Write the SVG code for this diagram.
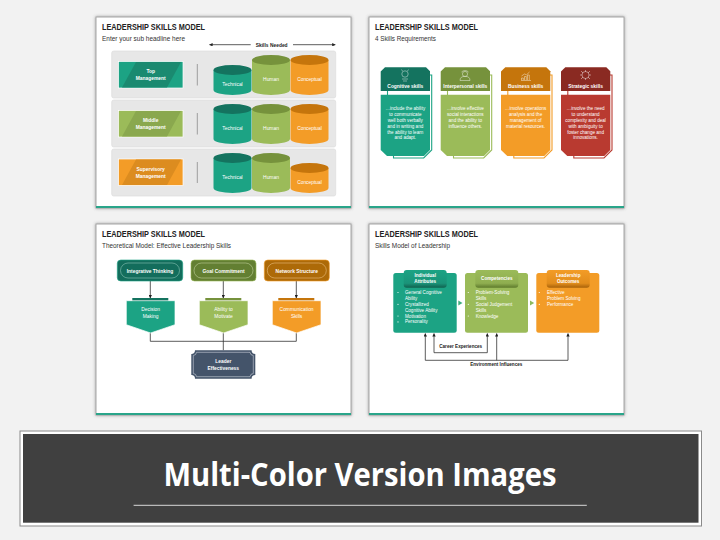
<svg xmlns="http://www.w3.org/2000/svg" width="720" height="540" viewBox="0 0 720 540">
<style>
text{font-family:"Liberation Sans",Arial,sans-serif;fill:#fff}
.ttl{font-size:9.600px;font-weight:700;fill:#222}
.sub{font-size:6.800px;fill:#333}
.slide{fill:#fff;stroke:#a6a6a6;stroke-width:1;filter:url(#sh)}
.bar{fill:#2aa58a}
.c{text-anchor:middle}
.b{font-weight:700}
.s5{font-size:4.900px}
.s45{font-size:4.600px}
.k{fill:#222}
.panel{fill:#e7e7e7;stroke:#dcdcdc;stroke-width:.7}
.sep{stroke:#8c8c8c;stroke-width:.8}
.tl{fill:#1ca384}.tld{fill:#14735f}.tlm{fill:#1a8a70}
.gr{fill:#9bbb59}.grd{fill:#76923c}.grm{fill:#8aa84e}
.or{fill:#f39c27}.ord{fill:#c5750c}.orm{fill:#dc8c1f}
.rd{fill:#b93a30}.rdd{fill:#8a2a22}
.wb{stroke:#fff;stroke-width:.7}
.tlo{fill:none;stroke:#1ca384;stroke-width:1.100}
.gro{fill:none;stroke:#9bbb59;stroke-width:1.100}
.oro{fill:none;stroke:#f39c27;stroke-width:1.100}
.rdo{fill:none;stroke:#b93a30;stroke-width:1.100}
.ic{fill:none;stroke:#fff;stroke-width:.5;opacity:.85}
.ln{fill:none;stroke:#333;stroke-width:.8}
</style>
<defs>
<filter id="sh" x="-5%" y="-5%" width="110%" height="110%"><feDropShadow dx="0" dy="0" stdDeviation="1.400" flood-color="#555" flood-opacity=".6"/></filter>
<marker id="ar" viewBox="0 0 6 6" refX="5.500" refY="3" markerWidth="3.400" markerHeight="3.400" orient="auto" markerUnits="userSpaceOnUse"><path d="M0 0L6 3L0 6z" fill="#222"/></marker>
<linearGradient id="gt" x1="0" y1="0" x2="0" y2="1"><stop offset="0" stop-color="#1ca384"/><stop offset=".75" stop-color="#1a9479"/><stop offset="1" stop-color="#11614f"/></linearGradient>
<linearGradient id="gg" x1="0" y1="0" x2="0" y2="1"><stop offset="0" stop-color="#9bbb59"/><stop offset=".75" stop-color="#8fae50"/><stop offset="1" stop-color="#5e7a2c"/></linearGradient>
<linearGradient id="go" x1="0" y1="0" x2="0" y2="1"><stop offset="0" stop-color="#f39c27"/><stop offset=".75" stop-color="#e28d1c"/><stop offset="1" stop-color="#a8620a"/></linearGradient>
</defs>
<rect width="720" height="540" fill="#f2f2f2"/>

<g id="slide-1">
<rect class="slide" x="96" y="17" width="255" height="191"/>
<rect class="bar" x="96" y="206" width="255" height="2"/>
<text class="ttl" x="102" y="30" textLength="103" lengthAdjust="spacingAndGlyphs">LEADERSHIP SKILLS MODEL</text>
<text class="sub" x="102" y="40.500" textLength="83" lengthAdjust="spacingAndGlyphs">Enter your sub headline here</text>
<text class="k b c s5" x="271.700" y="46.700">Skills Needed</text>
<g id="skills-needed-arrows"><line class="ln" x1="250.700" y1="44.700" x2="209.500" y2="44.700" marker-end="url(#ar)"/><line class="ln" x1="293" y1="44.700" x2="335.300" y2="44.700" marker-end="url(#ar)"/></g>
<g id="row-top">
<rect class="panel" x="111.700" y="51" width="224" height="47" rx="2"/>
<rect class="tl wb" x="118.500" y="61.500" width="64.500" height="26.500"/>
<polygon class="tlm" points="136,61.900 122,87.600 167,87.600 181,61.900"/>
<text class="b c s5" x="150.700" y="73">Top</text><text class="b c s5" x="150.700" y="79.800">Management</text>
<line class="sep" x1="197.300" y1="64" x2="197.300" y2="85.500"/>
<path class="tl" d="M213.500 70v20a19 5 0 0 0 38 0V70z"/><ellipse class="tld" cx="232.500" cy="70" rx="19" ry="5"/>
<path class="gr" d="M252 60v30a19 5 0 0 0 38 0V60z"/><ellipse class="grd" cx="271" cy="60" rx="19" ry="5"/>
<path class="or" d="M290.500 60v30a19 5 0 0 0 38 0V60z"/><ellipse class="ord" cx="309.500" cy="60" rx="19" ry="5"/>
<text class="c s5" x="232.500" y="86.100">Technical</text><text class="c s5" x="271" y="81.100">Human</text><text class="c s5" x="309.500" y="81.100">Conceptual</text>
</g>
<g id="row-middle">
<rect class="panel" x="111.700" y="100" width="224" height="47" rx="2"/>
<rect class="gr wb" x="118.500" y="110.500" width="64.500" height="26.500"/>
<polygon class="grm" points="136,110.900 122,136.600 167,136.600 181,110.900"/>
<text class="b c s5" x="150.700" y="121.700">Middle</text><text class="b c s5" x="150.700" y="128.700">Management</text>
<line class="sep" x1="197.300" y1="113" x2="197.300" y2="134.500"/>
<path class="tl" d="M213.500 109v30a19 5 0 0 0 38 0V109z"/><ellipse class="tld" cx="232.500" cy="109" rx="19" ry="5"/>
<path class="gr" d="M252 109v30a19 5 0 0 0 38 0V109z"/><ellipse class="grd" cx="271" cy="109" rx="19" ry="5"/>
<path class="or" d="M290.500 109v30a19 5 0 0 0 38 0V109z"/><ellipse class="ord" cx="309.500" cy="109" rx="19" ry="5"/>
<text class="c s5" x="232.500" y="130.300">Technical</text><text class="c s5" x="271" y="130.300">Human</text><text class="c s5" x="309.500" y="130.300">Conceptual</text>
</g>
<g id="row-supervisory">
<rect class="panel" x="111.700" y="149" width="224" height="47" rx="2"/>
<rect class="or wb" x="118.500" y="159" width="64.500" height="26.500"/>
<polygon class="orm" points="136,159.400 122,185.100 167,185.100 181,159.400"/>
<text class="b c s5" x="150.700" y="170.700">Supervisory</text><text class="b c s5" x="150.700" y="177.700">Management</text>
<line class="sep" x1="197.300" y1="162" x2="197.300" y2="183"/>
<path class="tl" d="M213.500 158v30a19 5 0 0 0 38 0V158z"/><ellipse class="tld" cx="232.500" cy="158" rx="19" ry="5"/>
<path class="gr" d="M252 158v30a19 5 0 0 0 38 0V158z"/><ellipse class="grd" cx="271" cy="158" rx="19" ry="5"/>
<path class="or" d="M290.500 168v20a19 5 0 0 0 38 0V168z"/><ellipse class="ord" cx="309.500" cy="168" rx="19" ry="5"/>
<text class="c s5" x="232.500" y="179">Technical</text><text class="c s5" x="271" y="179">Human</text><text class="c s5" x="309.500" y="184">Conceptual</text>
</g>
</g>

<g id="slide-2">
<rect class="slide" x="369" y="17" width="255" height="191"/>
<rect class="bar" x="369" y="206" width="255" height="2"/>
<text class="ttl" x="375" y="30" textLength="103" lengthAdjust="spacingAndGlyphs">LEADERSHIP SKILLS MODEL</text>
<text class="sub" x="375" y="40.500" textLength="61" lengthAdjust="spacingAndGlyphs">4 Skills Requirements</text>

<g id="card-cognitive">
<path class="tlo" d="M429 75h2.700V150l-8 8H393.500v-2M387.500 90v5"/>
<path class="tld" d="M385 67.300H426l4 4V91H380.700V71.500z"/>
<path class="tl" d="M380.700 94.700H430V150l-6 6H387l-6.300-6z"/>
<g class="ic"><circle cx="405" cy="74" r="3.200"/><path d="M402 79h6M403 81h4M402.500 71l-1-1.500M407.500 71l1-1.500"/></g>
<text class="b c s5" x="405.300" y="87.500">Cognitive skills</text>
<g class="c s45"><text x="405.300" y="109.500">…include the ability</text><text x="405.300" y="115.500">to communicate</text><text x="405.300" y="121.500">well both verbally</text><text x="405.300" y="127.500">and in writing and</text><text x="405.300" y="133.500">the ability to learn</text><text x="405.300" y="139.300">and adapt.</text></g>
</g>
<g id="card-interpersonal">
<path class="gro" d="M489 75h2.700V150l-8 8H453.500v-2M447.500 90v5"/>
<path class="grd" d="M445 67.300H486l4 4V91H440.700V71.500z"/>
<path class="gr" d="M440.700 94.700H490V150l-6 6H447l-6.300-6z"/>
<g class="ic"><circle cx="465" cy="74" r="2.600"/><path d="M460 80.500c0-3 2-4.200 5-4.200s5 1.200 5 4.200zM461.500 72a5 5 0 0 1 7 0"/></g>
<text class="b c s5" x="465.300" y="87.500" textLength="44" lengthAdjust="spacingAndGlyphs">Interpersonal skills</text>
<g class="c s45"><text x="465.300" y="109.500">…involve effective</text><text x="465.300" y="115.500">social interactions</text><text x="465.300" y="121.500">and the ability to</text><text x="465.300" y="127.500">influence others.</text></g>
</g>
<g id="card-business">
<path class="oro" d="M549.300 75h2.700V150l-8 8H513.800v-2M507.800 90v5"/>
<path class="ord" d="M505.300 67.300H546.300l4 4V91H501V71.500z"/>
<path class="or" d="M501 94.700H550.300V150l-6 6H507.300l-6.300-6z"/>
<g class="ic"><path d="M521 80.500h10M521.500 80v-2h1.800v2M524.500 80v-3.500h1.800V80M527.500 80v-5h1.800v5M521.500 76l3-2 2 .8 3-2.800"/></g>
<text class="b c s5" x="525.600" y="87.500">Business skills</text>
<g class="c s45"><text x="525.600" y="109.500">…involve operations</text><text x="525.600" y="115.500">analysis and the</text><text x="525.600" y="121.500">management of</text><text x="525.600" y="127.500">material resources.</text></g>
</g>
<g id="card-strategic">
<path class="rdo" d="M609.300 75h2.700V150l-8 8H573.800v-2M567.800 90v5"/>
<path class="rdd" d="M565.300 67.300H606.300l4 4V91H561V71.500z"/>
<path class="rd" d="M561 94.700H610.300V150l-6 6H567.300l-6.300-6z"/>
<g class="ic"><circle cx="585.500" cy="75" r="3.500"/><path d="M581 71l2 2M590 71l-2 2M581 79l2-2M590 79l-2-2M580 75h2M589 75h2M585.500 70v2M585.500 78v2"/></g>
<text class="b c s5" x="585.600" y="87.500">Strategic skills</text>
<g class="c s45"><text x="585.600" y="109.500">…involve the need</text><text x="585.600" y="115.500">to understand</text><text x="585.600" y="121.500">complexity and deal</text><text x="585.600" y="127.500">with ambiguity to</text><text x="585.600" y="133.500">foster change and</text><text x="585.600" y="139.300">innovations.</text></g>
</g>
</g>

<g id="slide-3">
<rect class="slide" x="96" y="224" width="255" height="191"/>
<rect class="bar" x="96" y="413" width="255" height="2"/>
<text class="ttl" x="102" y="237" textLength="103" lengthAdjust="spacingAndGlyphs">LEADERSHIP SKILLS MODEL</text>
<text class="sub" x="102" y="247.500" textLength="129" lengthAdjust="spacingAndGlyphs">Theoretical Model: Effective Leadership Skills</text>
<g id="connectors-3" class="ln">
<path d="M150.300 281V298" marker-end="url(#ar)"/><path d="M223.300 281V298" marker-end="url(#ar)"/><path d="M296.300 281V298" marker-end="url(#ar)"/>
<path d="M150.300 333V341.300H296.300V333M223.300 333V350.300"/>
</g>
<g id="n-integrative"><rect x="117.300" y="260" width="65.400" height="21" rx="3.500" fill="#136d5c" stroke="#1ca384" stroke-width=".6"/><rect x="120.500" y="263" width="59" height="15" rx="7.500" fill="none" stroke="#9fd3c5" stroke-width=".5"/><text class="b c s5" x="150" y="272.500">Integrative Thinking</text></g>
<g id="n-goal"><rect x="191" y="260" width="65" height="21" rx="3.500" fill="#637f32" stroke="#9bbb59" stroke-width=".6"/><rect x="194" y="263" width="59" height="15" rx="7.500" fill="none" stroke="#d0dfae" stroke-width=".5"/><text class="b c s5" x="223.500" y="272.500">Goal Commitment</text></g>
<g id="n-network"><rect x="264.300" y="260" width="65" height="21" rx="3.500" fill="#ad6a08" stroke="#f39c27" stroke-width=".6"/><rect x="267.300" y="263" width="59" height="15" rx="7.500" fill="none" stroke="#f5cd94" stroke-width=".5"/><text class="b c s5" x="296.800" y="272.500">Network Structure</text></g>
<g id="n-decision"><rect class="tld" x="132.300" y="298" width="36" height="3.500"/><path class="tl wb" d="M126.300 300.700H175V324.700L150.600 333L126.300 324.700z"/><text class="c s5" x="150.600" y="310.700">Decision</text><text class="c s5" x="150.600" y="317.700">Making</text></g>
<g id="n-ability"><rect class="grd" x="205.300" y="298" width="36" height="3.500"/><path class="gr wb" d="M199.300 300.700H248V324.700L223.600 333L199.300 324.700z"/><text class="c s5" x="223.600" y="310.700">Ability to</text><text class="c s5" x="223.600" y="317.700">Motivate</text></g>
<g id="n-communication"><rect class="ord" x="278.300" y="298" width="36" height="3.500"/><path class="or wb" d="M272.300 300.700H321V324.700L296.600 333L272.300 324.700z"/><text class="c s5" x="296.600" y="310.700">Communication</text><text class="c s5" x="296.600" y="317.700">Skills</text></g>
<g id="n-leader"><path d="M195 350.300H251.600A3.700 3.700 0 0 0 255.300 354V375A3.700 3.700 0 0 0 251.600 378.700H195A3.700 3.700 0 0 0 191.300 375V354A3.700 3.700 0 0 0 195 350.300z" fill="#44546a"/><path d="M196.500 352.300H250A3.500 3.500 0 0 0 253.300 355.500V373.500A3.500 3.500 0 0 0 250 376.700H196.500A3.500 3.500 0 0 0 193.300 373.500V355.500A3.500 3.500 0 0 0 196.500 352.300z" fill="none" stroke="#e4e8ee" stroke-width=".5"/><text class="b c s5" x="223.300" y="362.700">Leader</text><text class="b c s5" x="223.300" y="369.700">Effectiveness</text></g>
</g>

<g id="slide-4">
<rect class="slide" x="369" y="224" width="255" height="191"/>
<rect class="bar" x="369" y="413" width="255" height="2"/>
<text class="ttl" x="375" y="237" textLength="103" lengthAdjust="spacingAndGlyphs">LEADERSHIP SKILLS MODEL</text>
<text class="sub" x="375" y="247.500" textLength="75" lengthAdjust="spacingAndGlyphs">Skills Model of Leadership</text>
<g id="connectors-4" class="ln">
<path d="M434 352.700H487.300"/><path d="M434 352.700V333.500" marker-end="url(#ar)"/><path d="M487.300 352.700V333.500" marker-end="url(#ar)"/>
<path d="M425.300 360.300V333.500" marker-end="url(#ar)"/><path d="M496.700 360.300V333.500" marker-end="url(#ar)"/><path d="M568 360.300V333.500" marker-end="url(#ar)"/>
<path d="M425.300 360.300H568"/>
</g>
<text class="k b c s45" x="460.700" y="347.700">Career Experiences</text>
<text class="k b c s45" x="496.300" y="366.300">Environment Influences</text>
<polygon points="458.300,300.500 462.500,303 458.300,305.500" fill="#3fae7e"/>
<polygon points="530,300.500 534.200,303 530,305.500" fill="#8dbb5f"/>
<g id="n-individual">
<rect class="tl" x="393.300" y="273" width="63.400" height="59.700" rx="2.500"/>
<rect x="403.700" y="270" width="43" height="17.700" rx="3" fill="url(#gt)"/>
<text class="b c s45" x="425.200" y="276.800">Individual</text><text class="b c s45" x="425.200" y="282.800">Attributes</text>
<g class="s45"><text x="405" y="294">General Cognitive</text><text x="405" y="300">Ability</text><text x="405" y="305.800">Crystallized</text><text x="405" y="311.700">Cognitive Ability</text><text x="405" y="317.500">Motivation</text><text x="405" y="323.400">Personality</text></g>
<g fill="#fff"><circle cx="398" cy="292.500" r=".6"/><circle cx="398" cy="304.300" r=".6"/><circle cx="398" cy="316" r=".6"/><circle cx="398" cy="321.900" r=".6"/></g>
</g>
<g id="n-competencies">
<rect class="gr" x="465" y="273" width="63" height="59.700" rx="2.500"/>
<rect x="475.300" y="270" width="43" height="17.700" rx="3" fill="url(#gg)"/>
<text class="b c s45" x="496.800" y="280">Competencies</text>
<g class="s45"><text x="475.700" y="294">Problem-Solving</text><text x="475.700" y="300">Skills</text><text x="475.700" y="305.800">Social Judgement</text><text x="475.700" y="311.700">Skills</text><text x="475.700" y="317.500">Knowledge</text></g>
<g fill="#fff"><circle cx="468.300" cy="292.500" r=".6"/><circle cx="468.300" cy="304.300" r=".6"/><circle cx="468.300" cy="316" r=".6"/></g>
</g>
<g id="n-outcomes">
<rect class="or" x="536.300" y="273" width="63" height="59.700" rx="2.500"/>
<rect x="546.700" y="270" width="43" height="17.700" rx="3" fill="url(#go)"/>
<text class="b c s45" x="568.200" y="276.800">Leadership</text><text class="b c s45" x="568.200" y="282.800">Outcomes</text>
<g class="s45"><text x="547" y="294">Effective</text><text x="547" y="300">Problem Solving</text><text x="547" y="305.800">Performance</text></g>
<g fill="#fff"><circle cx="539.300" cy="292.500" r=".6"/><circle cx="539.300" cy="304.300" r=".6"/></g>
</g>
</g>

<g id="banner">
<rect x="20" y="431" width="681.500" height="95" fill="#fff" stroke="#8a8a8a" stroke-width="1"/>
<rect x="23" y="434" width="675.500" height="88.700" fill="#404040"/>
<text class="b c" x="360" y="486" font-size="33" textLength="393" lengthAdjust="spacingAndGlyphs" style="font-family:'Open Sans','Liberation Sans',sans-serif">Multi-Color Version Images</text>
<line x1="133.600" y1="505.300" x2="586.800" y2="505.300" stroke="#fff" stroke-width=".8"/>
</g>
</svg>
